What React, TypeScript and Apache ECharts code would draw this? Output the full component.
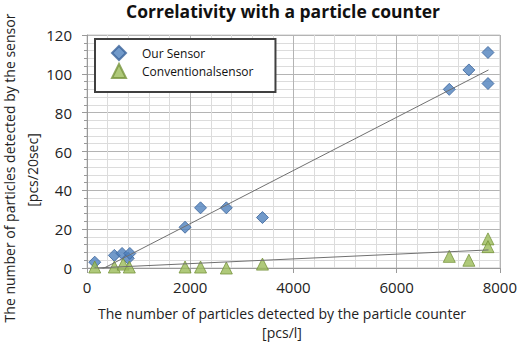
import React, { useEffect, useRef } from "react";
import * as echarts from "echarts";

const titleText = "Correlativity with a particle counter";
const seriesNames = ["Our Sensor", "Conventionalsensor"];
const xAxisName = ["The number of particles detected by the particle counter", "[pcs/l]"];
const yAxisName = ["The number of particles detected by the sensor", "[pcs/20sec]"];

const ourSensorX = [150, 530, 680, 800, 830, 1900, 2200, 2700, 3400, 7020, 7400, 7770, 7770];
const ourSensorY = [3, 6.5, 7.5, 5, 7.5, 21, 31, 31, 26, 92, 102, 111, 95];

const convSensorX = [150, 530, 700, 820, 1900, 2200, 2700, 3400, 7020, 7400, 7770, 7770];
const convSensorY = [0.5, 0.5, 2, 0.5, 0.5, 0.5, 0, 2, 6, 4, 15, 11];

const ourTrendX = [150, 7780];
const ourTrendY = [-2.5, 102];
const convTrendX = [150, 7780];
const convTrendY = [0, 9.3];

const zip = (xs: number[], ys: number[]) => xs.map((x, i) => [x, ys[i]]);

const FONT = "'Open Sans', 'Noto Sans', sans-serif";

export default function App() {
  const ref = useRef<HTMLDivElement>(null);
  useEffect(() => {
    if (!ref.current) return;
    const chart = echarts.init(ref.current, undefined, { renderer: "svg" });
    chart.setOption({
      animation: false,
      backgroundColor: "#ffffff",
      title: {
        text: titleText,
        left: 278,
        top: 0,
        textAlign: "center",
        padding: [2, 5, 5, 5],
        textStyle: { fontFamily: FONT, fontSize: 17.5, fontWeight: "bold", color: "#111" },
      },
      legend: {
        data: [
          { name: seriesNames[0], icon: "diamond" },
          { name: seriesNames[1], icon: "triangle" },
        ],
        orient: "vertical",
        left: 95,
        top: 39,
        itemWidth: 14,
        itemHeight: 14,
        itemGap: 2,
        padding: [6, 22, 13, 16],
        borderColor: "#404040",
        borderWidth: 2,
        backgroundColor: "#fff",
        textStyle: { fontFamily: FONT, fontSize: 12, color: "#111", padding: [0, 0, 0, 11] },
      },
      grid: { left: 87, right: 20, top: 35, bottom: 74 },
      xAxis: {
        type: "value",
        min: 0,
        max: 8000,
        interval: 2000,
        axisLine: { show: true, lineStyle: { color: "#9a9a9a" } },
        axisTick: { show: true, length: 5, lineStyle: { color: "#9a9a9a" } },
        minorTick: { show: false, splitNumber: 5 },
        splitLine: { show: true, lineStyle: { color: "#b4b4b4" } },
        minorSplitLine: { show: true, lineStyle: { color: "#dcdcdc" } },
        axisLabel: { fontFamily: FONT, fontSize: 15, color: "#222", margin: 11, formatter: (v: number) => String(v) },
      },
      yAxis: {
        type: "value",
        min: 0,
        max: 120,
        interval: 20,
        axisLine: { show: true, lineStyle: { color: "#9a9a9a" } },
        axisTick: { show: true, length: 5, lineStyle: { color: "#9a9a9a" } },
        minorTick: { show: true, splitNumber: 5, length: 3, lineStyle: { color: "#9a9a9a" } },
        splitLine: { show: true, lineStyle: { color: "#b4b4b4" } },
        minorSplitLine: { show: true, lineStyle: { color: "#dcdcdc" } },
        axisLabel: { fontFamily: FONT, fontSize: 15, color: "#222", margin: 15 },
      },
      graphic: [
        {
          type: "rect",
          shape: { x: 87, y: 35, width: 413, height: 233 },
          style: { fill: "none", stroke: "#c8c8c8", lineWidth: 1 },
          silent: true,
          z: 0,
        },
        {
          type: "text",
          x: 282,
          y: 313,
          style: { text: xAxisName[0], fontFamily: FONT, fontSize: 14, fill: "#222", textAlign: "center", textVerticalAlign: "middle" },
        },
        {
          type: "text",
          x: 282,
          y: 332,
          style: { text: xAxisName[1], fontFamily: FONT, fontSize: 14, fill: "#222", textAlign: "center", textVerticalAlign: "middle" },
        },
        {
          type: "text",
          x: 9,
          y: 168,
          rotation: Math.PI / 2,
          style: { text: yAxisName[0], fontFamily: FONT, fontSize: 14, fill: "#222", textAlign: "center", textVerticalAlign: "middle" },
        },
        {
          type: "text",
          x: 32,
          y: 170,
          rotation: Math.PI / 2,
          style: { text: yAxisName[1], fontFamily: FONT, fontSize: 14, fill: "#222", textAlign: "center", textVerticalAlign: "middle" },
        },
      ],
      series: [
        {
          name: seriesNames[0],
          type: "scatter",
          symbol: "diamond",
          symbolSize: 12,
          itemStyle: { color: "#4f81bd", borderColor: "#3a639a", borderWidth: 1 },
          data: zip(ourSensorX, ourSensorY),
        },
        {
          name: seriesNames[1],
          type: "scatter",
          symbol: "triangle",
          symbolSize: 12,
          itemStyle: { color: "#9bbb59", borderColor: "#77933c", borderWidth: 1 },
          data: zip(convSensorX, convSensorY),
        },
        {
          name: "ourTrend",
          type: "line",
          showSymbol: false,
          silent: true,
          clip: true,
          lineStyle: { color: "#707070", width: 1 },
          data: zip(ourTrendX, ourTrendY),
        },
        {
          name: "convTrend",
          type: "line",
          showSymbol: false,
          silent: true,
          clip: true,
          lineStyle: { color: "#707070", width: 1 },
          data: zip(convTrendX, convTrendY),
        },
      ],
    });
    return () => chart.dispose();
  }, []);
  return <div ref={ref} style={{ position: "fixed", left: 0, top: 0, width: 520, height: 342 }} />;
}
